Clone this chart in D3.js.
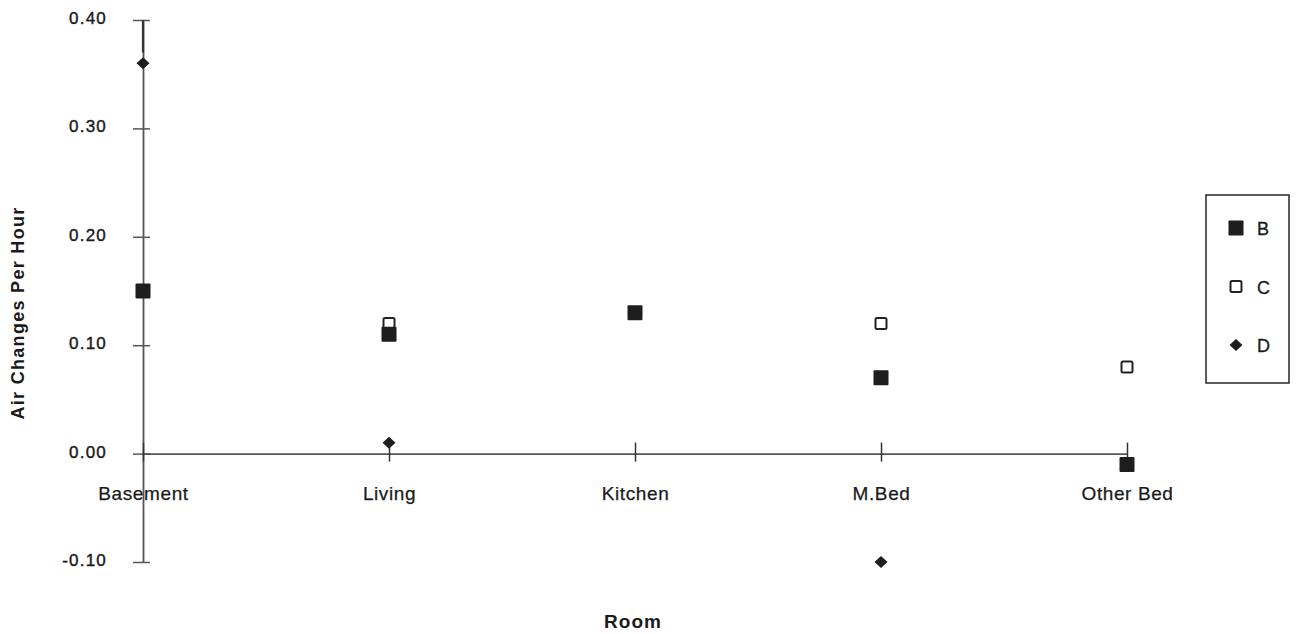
<!DOCTYPE html>
<html><head><meta charset="utf-8">
<script src="https://cdn.jsdelivr.net/npm/d3@7"></script>
<style>body{margin:0;background:#fff}svg{display:block}text{font-family:"Liberation Sans",Arial,sans-serif;fill:#1a1a1a}</style>
</head><body>
<svg id="c" width="1299" height="634"></svg>
<script>
const categories = ["Basement","Living","Kitchen","M.Bed","Other Bed"];
const seriesB = [0.15, 0.11, 0.13, 0.07, -0.01];
const seriesC = [0.15, 0.12, 0.13, 0.12, 0.08];
const seriesD = [0.36, 0.01, null, -0.10, null];
const yTicks = [0.40, 0.30, 0.20, 0.10, 0.00, -0.10];
const seriesNames = ["B","C","D"];

const svg = d3.select("#c");
const x = d3.scalePoint().domain(categories).range([143, 1127]);
const y = d3.scaleLinear().domain([-0.10, 0.40]).range([562, 20]);
const axisColor = "#555";

// y axis
const ya = svg.append("g").attr("transform","translate(143,0)")
  .call(d3.axisLeft(y).tickValues(yTicks).tickFormat(d => d3.format(".2f")(d).replace("−","-")).tickSize(0).tickPadding(36));
ya.select(".domain").attr("stroke", axisColor).attr("stroke-width", 1.8);
ya.selectAll("text").attr("font-size",null).style("font-size","17px").style("letter-spacing","1.2px")
  .attr("fill","#1a1a1a").attr("stroke","#1a1a1a").attr("stroke-width",0.4).attr("dy","0.2em");
ya.selectAll(".tick").append("line").attr("x1",-10).attr("x2",7).attr("stroke",axisColor).attr("stroke-width",1.5);
ya.selectAll(".tick").filter(d => d === 0.40).select("line").attr("stroke","#333").attr("stroke-width",2);
svg.append("line").attr("x1",143).attr("x2",143).attr("y1",y(0.40)).attr("y2",y(0.37)).attr("stroke","#333").attr("stroke-width",2.2);

// x axis at zero
const xa = svg.append("g").attr("transform",`translate(0,${y(0)})`)
  .call(d3.axisBottom(x).tickSize(0));
xa.select(".domain").attr("stroke", axisColor).attr("stroke-width", 1.8);
xa.selectAll("text").style("font-size","19px").style("letter-spacing","0.6px")
  .attr("fill","#1a1a1a").attr("stroke","#1a1a1a").attr("stroke-width",0.25).attr("y",46).attr("dy",0);
xa.selectAll(".tick").append("line").attr("y1",-11).attr("y2",8).attr("stroke","#333").attr("stroke-width",1.5);

// axis titles
svg.append("text").attr("transform","translate(24,313) rotate(-90)").attr("text-anchor","middle")
  .style("font-size","18px").style("font-weight","bold").style("letter-spacing","1.3px").text("Air Changes Per Hour");
svg.append("text").attr("x",633).attr("y",628).attr("text-anchor","middle")
  .style("font-size","19px").style("font-weight","bold").style("letter-spacing","1px").text("Room");

function drawB(g, cx, cy){ g.append("rect").attr("x",cx-7.5).attr("y",cy-7.5).attr("width",15).attr("height",15).attr("rx",1).attr("fill","#1e1e1e"); }
function drawC(g, cx, cy){ g.append("rect").attr("x",cx-5.5).attr("y",cy-5.5).attr("width",11).attr("height",11).attr("rx",1.5).attr("fill","#fff").attr("stroke","#222").attr("stroke-width",2); }
function drawD(g, cx, cy){ g.append("path").attr("d",`M${cx},${cy-6}L${cx+6.5},${cy}L${cx},${cy+6}L${cx-6.5},${cy}Z`).attr("fill","#1e1e1e"); }

const marks = svg.append("g");
categories.forEach((c,i)=>{
  if (seriesC[i]!=null) drawC(marks, x(c), y(seriesC[i]));
});
categories.forEach((c,i)=>{
  if (seriesB[i]!=null) drawB(marks, x(c), y(seriesB[i]));
});
categories.forEach((c,i)=>{
  if (seriesD[i]!=null) drawD(marks, x(c), y(seriesD[i]));
});

// legend
const lg = svg.append("g");
lg.append("rect").attr("x",1206).attr("y",195).attr("width",83).attr("height",188).attr("fill","#fff").attr("stroke","#333").attr("stroke-width",1.6);
const drawers = [drawB, drawC, drawD];
seriesNames.forEach((n,i)=>{
  const ly = 228 + i*58.5;
  drawers[i](lg, 1236, ly);
  lg.append("text").attr("x",1257).attr("y",ly+7).style("font-size","18px")
    .attr("stroke","#1a1a1a").attr("stroke-width",0.3).text(n);
});
</script>
</body></html>
